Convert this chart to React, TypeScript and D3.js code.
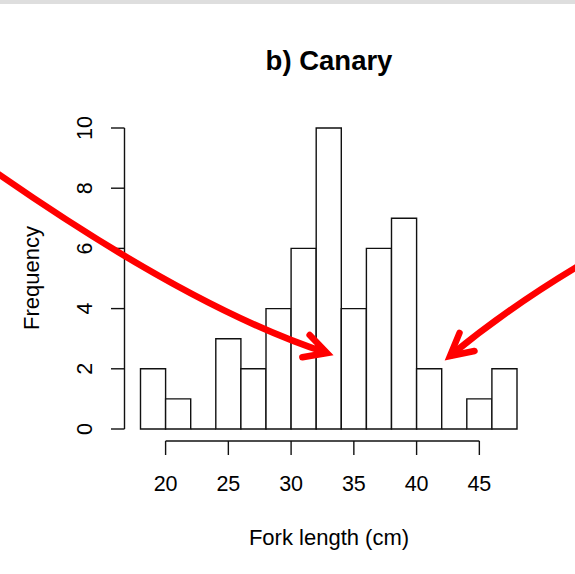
import React from "react";
import * as d3 from "d3";

// Histogram bins (fork length, cm) and counts
const binStarts = [18, 20, 22, 24, 26, 28, 30, 32, 34, 36, 38, 40, 42, 44, 46];
const binWidth = 2;
const counts = [2, 1, 0, 3, 2, 4, 6, 10, 4, 6, 7, 2, 0, 1, 2];
const xTicks = [20, 25, 30, 35, 40, 45];
const yTicks = [0, 2, 4, 6, 8, 10];
const title = "b) Canary";
const xLabel = "Fork length (cm)";
const yLabel = "Frequency";

// Annotation arrows (pixel space): start, control, tip
const arrows = [
  { start: [-6, 171], ctrl: [192, 309], tip: [327, 353] },
  { start: [580, 265], ctrl: [508, 308], tip: [450, 356] },
];

const W = 575;
const H = 574;
const FONT = "'Liberation Sans', Arial, Helvetica, sans-serif";

export default function App() {
  const x = d3.scaleLinear().domain([18, 48]).range([140.5, 517]);
  const y = d3.scaleLinear().domain([0, 10]).range([429, 128]);

  const arrowEls = arrows.map((a, i) => {
    const p = d3.path();
    p.moveTo(a.start[0], a.start[1]);
    p.quadraticCurveTo(a.ctrl[0], a.ctrl[1], a.tip[0], a.tip[1]);
    const ang = Math.atan2(a.ctrl[1] - a.tip[1], a.ctrl[0] - a.tip[0]);
    const len = 25;
    const spread = (28 * Math.PI) / 180;
    const a1 = [a.tip[0] + len * Math.cos(ang - spread), a.tip[1] + len * Math.sin(ang - spread)];
    const a2 = [a.tip[0] + len * Math.cos(ang + spread), a.tip[1] + len * Math.sin(ang + spread)];
    return (
      <g key={i} stroke="#ff0000" strokeWidth={6.5} fill="none">
        <path d={p.toString()} strokeLinecap="butt" />
        <path
          d={`M${a1[0]},${a1[1]}L${a.tip[0]},${a.tip[1]}L${a2[0]},${a2[1]}`}
          strokeLinejoin="miter"
          strokeLinecap="round"
        />
      </g>
    );
  });

  return (
    <svg
      width={W}
      height={H}
      viewBox={`0 0 ${W} ${H}`}
      style={{ position: "absolute", left: 0, top: 0, display: "block", background: "#fff" }}
    >
      <rect x={0} y={0} width={W} height={4} fill="#dedede" />
      <text
        x={329}
        y={70}
        textAnchor="middle"
        fontFamily={FONT}
        fontWeight="bold"
        fontSize={27.5}
        fill="#000"
      >
        {title}
      </text>

      {/* bars (drawn as closed paths so zero-count bins still show the baseline) */}
      <g stroke="#111" strokeWidth={1.4} fill="#fff">
        {binStarts.map((b, i) => {
          const x0 = x(b);
          const x1 = x(b + binWidth);
          const y0 = y(0);
          const y1 = y(counts[i]);
          return (
            <path key={b} d={`M${x0},${y0}L${x0},${y1}L${x1},${y1}L${x1},${y0}Z`} />
          );
        })}
      </g>

      {/* x axis */}
      <g stroke="#111" strokeWidth={1.4} fill="none">
        <line x1={x(xTicks[0])} x2={x(xTicks[xTicks.length - 1])} y1={441} y2={441} />
        {xTicks.map((t) => (
          <line key={t} x1={x(t)} x2={x(t)} y1={441} y2={455} />
        ))}
      </g>
      {xTicks.map((t) => (
        <text
          key={t}
          x={x(t)}
          y={491}
          textAnchor="middle"
          fontFamily={FONT}
          fontSize={21.5}
          fill="#000"
        >
          {t}
        </text>
      ))}

      {/* y axis */}
      <g stroke="#111" strokeWidth={1.4} fill="none">
        <line x1={124.5} x2={124.5} y1={y(yTicks[0])} y2={y(yTicks[yTicks.length - 1])} />
        {yTicks.map((t) => (
          <line key={t} x1={111} x2={124.5} y1={y(t)} y2={y(t)} />
        ))}
      </g>
      {yTicks.map((t) => (
        <text
          key={t}
          transform={`translate(92,${y(t)}) rotate(-90)`}
          textAnchor="middle"
          fontFamily={FONT}
          fontSize={21.5}
          fill="#000"
        >
          {t}
        </text>
      ))}

      <text
        x={329}
        y={545}
        textAnchor="middle"
        fontFamily={FONT}
        fontSize={22}
        fill="#000"
      >
        {xLabel}
      </text>
      <text
        transform={`translate(39,278) rotate(-90)`}
        textAnchor="middle"
        fontFamily={FONT}
        fontSize={22}
        fill="#000"
      >
        {yLabel}
      </text>

      {arrowEls}
    </svg>
  );
}
